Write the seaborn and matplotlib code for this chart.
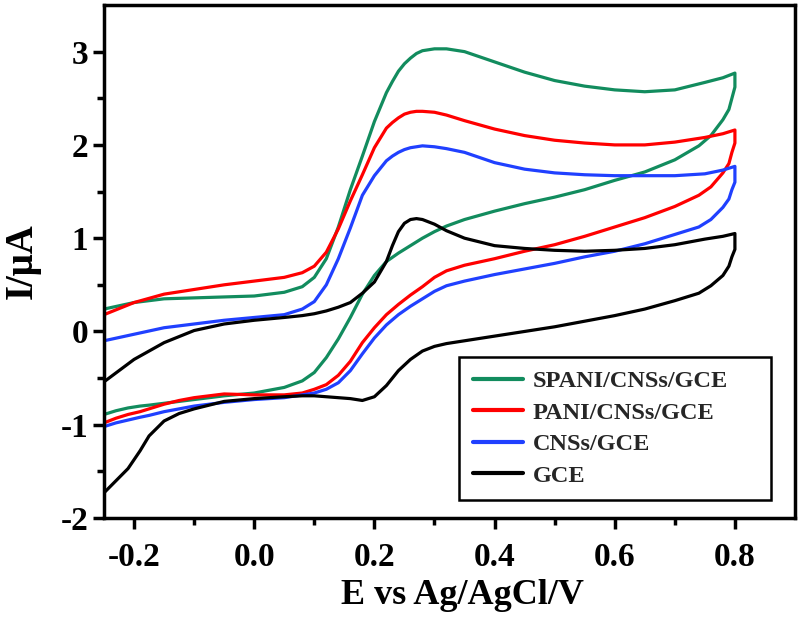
import matplotlib
matplotlib.use("Agg")
import matplotlib.pyplot as plt
import seaborn as sns
import pandas as pd

# Potentials (V vs Ag/AgCl): forward (anodic) scan and reverse (cathodic) scan
E_forward = [-0.25, -0.2, -0.15, -0.1, -0.05, 0.0, 0.05, 0.08, 0.10, 0.12, 0.14, 0.16,
             0.18, 0.20, 0.22, 0.23, 0.24, 0.25, 0.26, 0.27, 0.28, 0.30, 0.32, 0.35,
             0.40, 0.45, 0.50, 0.55, 0.60, 0.65, 0.70, 0.75, 0.78, 0.80]
E_reverse = [0.80, 0.795, 0.79, 0.78, 0.76, 0.74, 0.70, 0.65, 0.60, 0.55, 0.50, 0.45,
             0.40, 0.35, 0.32, 0.30, 0.28, 0.26, 0.24, 0.22, 0.20, 0.18, 0.16, 0.14,
             0.12, 0.10, 0.08, 0.05, 0.0, -0.05, -0.1, -0.125, -0.15, -0.175, -0.19,
             -0.21, -0.23, -0.25]

# Currents (uA)
spani_fwd = [0.24, 0.31, 0.35, 0.36, 0.37, 0.38, 0.42, 0.48, 0.58, 0.78, 1.12, 1.52,
             1.88, 2.25, 2.56, 2.68, 2.79, 2.87, 2.93, 2.98, 3.01, 3.03, 3.03, 3.00,
             2.89, 2.78, 2.69, 2.63, 2.59, 2.57, 2.59, 2.67, 2.72, 2.77]
spani_rev = [2.62, 2.50, 2.38, 2.27, 2.10, 1.99, 1.84, 1.71, 1.62, 1.52, 1.44, 1.37,
             1.29, 1.20, 1.13, 1.07, 1.00, 0.92, 0.84, 0.75, 0.60, 0.40, 0.15, -0.08,
             -0.28, -0.44, -0.53, -0.60, -0.66, -0.69, -0.73, -0.75, -0.77, -0.79, -0.80,
             -0.82, -0.85, -0.89]

pani_fwd = [0.18, 0.31, 0.40, 0.45, 0.50, 0.54, 0.58, 0.63, 0.70, 0.85, 1.10, 1.40,
            1.68, 1.97, 2.18, 2.24, 2.29, 2.33, 2.35, 2.36, 2.36, 2.35, 2.32, 2.26,
            2.17, 2.10, 2.05, 2.02, 2.00, 2.00, 2.03, 2.08, 2.12, 2.16]
pani_rev = [2.02, 1.92, 1.80, 1.70, 1.55, 1.46, 1.34, 1.22, 1.12, 1.02, 0.93, 0.86,
            0.78, 0.71, 0.65, 0.58, 0.48, 0.39, 0.29, 0.18, 0.04, -0.12, -0.32, -0.47,
            -0.57, -0.62, -0.66, -0.68, -0.68, -0.67, -0.71, -0.74, -0.78, -0.83, -0.86,
            -0.89, -0.93, -0.98]

cns_fwd = [-0.10, -0.03, 0.04, 0.08, 0.12, 0.15, 0.18, 0.24, 0.32, 0.50, 0.78, 1.11,
           1.46, 1.67, 1.83, 1.88, 1.92, 1.95, 1.97, 1.98, 1.99, 1.98, 1.96, 1.92,
           1.81, 1.74, 1.70, 1.68, 1.67, 1.67, 1.67, 1.69, 1.73, 1.77]
cns_rev = [1.60, 1.52, 1.42, 1.33, 1.20, 1.12, 1.04, 0.94, 0.86, 0.80, 0.73, 0.67,
           0.61, 0.54, 0.49, 0.43, 0.35, 0.27, 0.18, 0.07, -0.07, -0.24, -0.42, -0.55,
           -0.62, -0.66, -0.68, -0.71, -0.73, -0.76, -0.80, -0.83, -0.86, -0.90, -0.92,
           -0.95, -0.98, -1.02]

gce_fwd = [-0.54, -0.30, -0.12, 0.01, 0.08, 0.12, 0.15, 0.17, 0.19, 0.22, 0.26, 0.31,
           0.41, 0.53, 0.75, 0.92, 1.07, 1.16, 1.20, 1.21, 1.20, 1.15, 1.08, 1.00,
           0.92, 0.89, 0.87, 0.86, 0.87, 0.89, 0.93, 0.99, 1.02, 1.05]
gce_rev = [0.88, 0.80, 0.70, 0.60, 0.49, 0.41, 0.33, 0.24, 0.17, 0.11, 0.05, 0.00,
           -0.05, -0.10, -0.13, -0.16, -0.21, -0.30, -0.42, -0.58, -0.70, -0.74, -0.72,
           -0.71, -0.70, -0.69, -0.69, -0.70, -0.72, -0.75, -0.83, -0.88, -0.96, -1.12,
           -1.28, -1.47, -1.60, -1.73]

labels = ["SPANI/CNSs/GCE", "PANI/CNSs/GCE", "CNSs/GCE", "GCE"]
colors = ["#128C5E", "#FF0000", "#2040FF", "#000000"]
x_ticks = [-0.2, 0.0, 0.2, 0.4, 0.6, 0.8]
y_ticks = [-2, -1, 0, 1, 2, 3]

series = {
    labels[0]: (spani_fwd, spani_rev),
    labels[1]: (pani_fwd, pani_rev),
    labels[2]: (cns_fwd, cns_rev),
    labels[3]: (gce_fwd, gce_rev),
}
rows = []
for name, (fwd, rev) in series.items():
    i = 0
    for e, c in zip(E_forward, fwd):
        rows.append((name, i, e, c)); i += 1
    for e, c in zip(E_reverse, rev):
        rows.append((name, i, e, c)); i += 1
df = pd.DataFrame(rows, columns=["electrode", "order", "E", "I"])

sns.set_theme(style="white")
plt.rcParams["font.family"] = ["Liberation Serif", "DejaVu Serif"]
plt.rcParams["font.weight"] = "bold"

fig = plt.figure(figsize=(8, 6.24), dpi=100)
ax = fig.add_axes([104 / 800, 1 - 518 / 624, 691 / 800, 513 / 624])

sns.lineplot(data=df, x="E", y="I", hue="electrode", hue_order=labels,
             palette=dict(zip(labels, colors)), sort=False, estimator=None,
             units="electrode", linewidth=2.3, ax=ax, legend=True)
for ln in ax.get_lines():
    ln.set_solid_joinstyle("round")

ax.set_xlim(-0.25, 0.9)
ax.set_ylim(-2, 3.5)
ax.set_xticks(x_ticks)
ax.set_xticklabels([f"{t:.1f}" for t in x_ticks])
ax.set_yticks(y_ticks)
ax.set_yticklabels([str(t) for t in y_ticks])
ax.set_xticks([-0.1, 0.1, 0.3, 0.5, 0.7], minor=True)
ax.set_yticks([-1.5, -0.5, 0.5, 1.5, 2.5], minor=True)

for sp in ax.spines.values():
    sp.set_visible(True)
    sp.set_color("black")
    sp.set_linewidth(2.5)

ax.tick_params(axis="both", which="major", direction="out", length=8, width=2.5,
               labelsize=24, pad=3.5, bottom=True, left=True, top=False, right=False,
               colors="black")
ax.tick_params(axis="x", which="major", pad=9.5)
ax.tick_params(axis="both", which="minor", direction="out", length=5, width=2.5,
               bottom=True, left=True, top=False, right=False, colors="black")
for lab in ax.get_xticklabels() + ax.get_yticklabels():
    lab.set_fontweight("bold")

ax.set_xlabel("E vs Ag/AgCl/V", fontsize=26, fontweight="bold", color="black")
ax.set_ylabel("I/\u03bcA", fontsize=28, fontweight="bold", color="black")
ax.xaxis.set_label_coords(0.518, -0.119)
ax.yaxis.set_label_coords(-0.092, 0.5)

handles, _ = ax.get_legend_handles_labels()
leg = ax.legend(handles, labels, loc="lower left",
                bbox_to_anchor=(0.514, 0.035, 0.451, 0.285), mode="expand",
                prop={"family": "Liberation Serif", "weight": "bold", "size": 17.5},
                frameon=True, fancybox=False, framealpha=1, edgecolor="black",
                handlelength=2.06, handletextpad=0.41, labelspacing=0.39,
                borderpad=0.55, borderaxespad=0)
leg.get_frame().set_linewidth(1.8)
for h in leg.get_lines():
    h.set_linewidth(3)

fig.savefig("out.png", dpi=100, facecolor="white")
